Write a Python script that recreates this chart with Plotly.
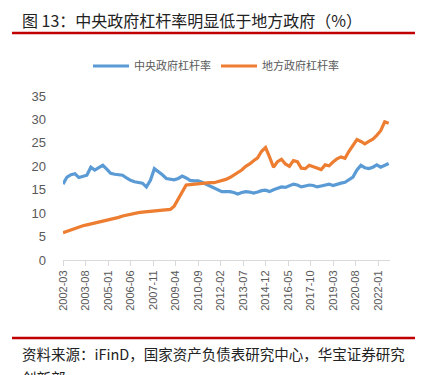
import pandas as pd
import plotly.graph_objects as go

# Quarterly observations, 2002-03 .. 2022-09
dates = pd.date_range("2002-03-01", "2022-09-01", freq="3MS")

central = [16.2, 17.7, 18.2, 18.4, 17.6, 17.9, 18.1, 19.8, 19.2, 19.7,
           20.2, 19.4, 18.5, 18.3, 18.2, 18.1, 17.5, 17.0, 16.7, 16.6,
           16.4, 15.6, 17.0, 19.5, 18.9, 18.2, 17.4, 17.3, 17.1, 17.4,
           17.9, 17.5, 17.0, 16.9, 16.9, 16.6, 16.2, 15.8, 15.4, 15.0,
           14.6, 14.6, 14.6, 14.4, 14.1, 14.4, 14.6, 14.5, 14.3, 14.5,
           14.8, 14.9, 14.6, 15.0, 15.3, 15.6, 15.5, 15.8, 16.2, 16.0,
           15.6, 15.8, 16.0, 15.9, 15.6, 15.8, 16.0, 16.2, 15.9, 16.2,
           16.4, 16.6, 17.2, 17.7, 19.2, 20.2, 19.7, 19.5, 19.8, 20.3,
           19.8, 20.2, 20.6]

local = [5.8, 6.1, 6.5, 6.8, 7.0, 7.3, 7.5, 7.7, 7.9, 8.1,
         8.2, 8.4, 8.6, 8.9, 9.1, 9.4, 9.6, 9.8, 10.0, 10.1,
         10.2, 10.3, 10.4, 10.5, 10.6, 10.6, 10.7, 10.8, 11.5, 13.0,
         14.3, 16.0, 16.1, 16.2, 16.2, 16.4, 16.4, 16.5, 16.5, 16.7,
         17.0, 17.2, 17.6, 18.1, 18.5, 19.2, 20.0, 20.5, 21.2, 21.8,
         23.2, 24.0, 22.0, 19.8, 21.0, 21.5, 20.5, 20.0, 21.2, 21.0,
         19.6, 19.5, 20.2, 19.9, 19.6, 19.3, 20.3, 20.1, 20.9, 21.6,
         22.0, 21.7, 23.2, 24.5, 25.7, 25.3, 24.8, 25.3, 25.8, 26.6,
         27.6, 29.5, 29.2]

tick_labels = ["2002-03", "2003-08", "2005-01", "2006-06", "2007-11",
               "2009-04", "2010-09", "2012-02", "2013-07", "2014-12",
               "2016-05", "2017-10", "2019-03", "2020-08", "2022-01"]
y_ticks = [0, 5, 10, 15, 20, 25, 30, 35]

series_names = ["中央政府杠杆率", "地方政府杠杆率"]
colors = ["#5B9BD5", "#ED7D31"]

title_text = "图 13：中央政府杠杆率明显低于地方政府（%）"
source_text = "资料来源：iFinD，国家资产负债表研究中心，华宝证券研究"
source_text2 = "创新部"

CJK = "Noto Sans CJK SC"
gray = "#595959"

# plot area in pixels
L, R, T, B = 63, 390, 96, 260
PW, PH = R - L, B - T


def px(x):
    return (x - L) / PW


def py(y):
    return (B - y) / PH


fig = go.Figure()
for name, vals, c in zip(series_names, [central, local], colors):
    fig.add_trace(go.Scatter(x=dates, y=vals, mode="lines", name=name,
                             line=dict(color=c, width=3.2)))

fig.update_layout(
    width=424, height=375,
    margin=dict(l=L, r=424 - R, t=T, b=375 - B, autoexpand=False),
    paper_bgcolor="white", plot_bgcolor="white",
    showlegend=True,
    legend=dict(orientation="h", x=px(88), xanchor="left", y=py(66), yanchor="middle",
                font=dict(family=CJK, size=11, color=gray),
                itemwidth=36, tracegroupgap=0, bgcolor="rgba(0,0,0,0)"),
    xaxis=dict(type="date", range=[dates[0], pd.Timestamp("2022-10-01")],
               tickvals=[pd.Timestamp(t + "-01") for t in tick_labels],
               ticktext=tick_labels, tickangle=-90,
               tickfont=dict(family="Liberation Sans", size=11, color=gray),
               showgrid=False, showline=True, linecolor="#D9D9D9", linewidth=1,
               ticks="outside", ticklen=5, tickcolor="#D9D9D9", zeroline=False),
    yaxis=dict(range=[0, 35], tickvals=y_ticks,
               tickfont=dict(family="Liberation Sans", size=13, color=gray),
               showgrid=False, showline=False, zeroline=False, ticks="",
               ticklabelstandoff=16),
)

# Title and red rules
fig.add_annotation(text=title_text, xref="paper", yref="paper",
                   x=px(20), y=py(20), xanchor="left", yanchor="middle",
                   showarrow=False, font=dict(family=CJK, size=16, color="#222222"))
fig.add_shape(type="line", xref="paper", yref="paper",
              x0=px(12), x1=px(415), y0=py(33), y1=py(33),
              line=dict(color="#C00000", width=2.5))
fig.add_shape(type="line", xref="paper", yref="paper",
              x0=px(12), x1=px(415), y0=py(338), y1=py(338),
              line=dict(color="#C00000", width=2.5))
fig.add_annotation(text=source_text, xref="paper", yref="paper",
                   x=px(20), y=py(353), xanchor="left", yanchor="middle",
                   showarrow=False, font=dict(family=CJK, size=14.5, color="#222222"))
fig.add_annotation(text=source_text2, xref="paper", yref="paper",
                   x=px(20), y=py(377), xanchor="left", yanchor="middle",
                   showarrow=False, font=dict(family=CJK, size=14.5, color="#222222"))

fig.write_html("out.html",
               config={"displayModeBar": False},
               post_script="document.body.style.margin='0';document.body.style.overflow='hidden';")
